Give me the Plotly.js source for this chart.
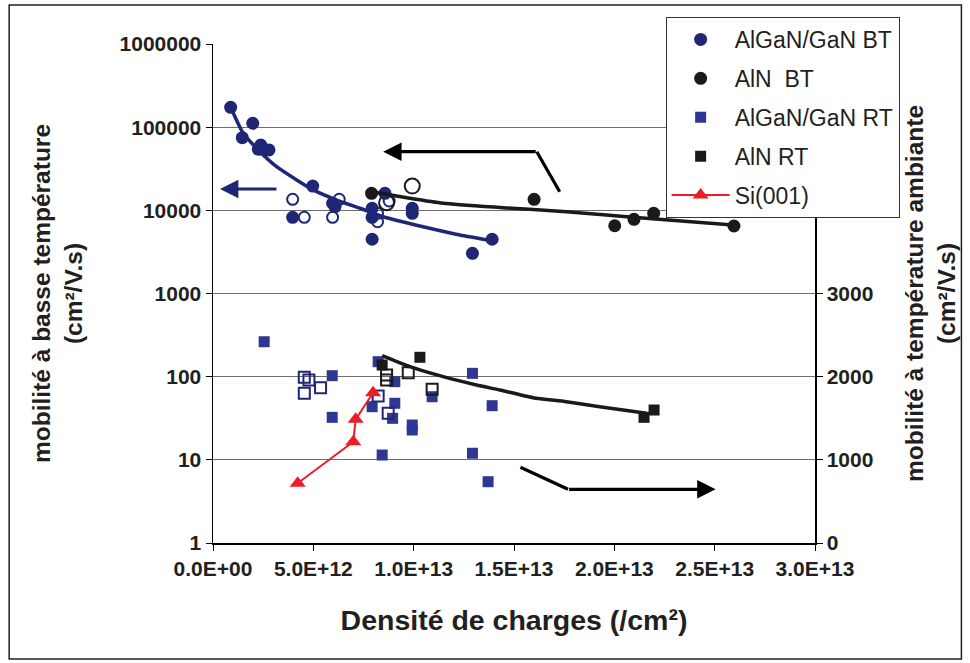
<!DOCTYPE html>
<html>
<head>
<meta charset="utf-8">
<script src="https://cdn.plot.ly/plotly-3.0.1.min.js"></script>
<style>html,body{margin:0;padding:0;background:#fff;}#chart{width:970px;height:663px;}</style>
</head>
<body>
<div id="chart"></div>
<script>
// ---- Data (charge density in /cm², mobility in cm²/V.s) ----
// Low temperature (left log axis)
const algaBT_x = [0.88e12, 1.98e12, 1.46e12, 2.38e12, 2.26e12, 2.79e12, 4.97e12, 3.97e12, 5.96e12, 6.08e12, 7.93e12, 7.93e12, 7.93e12, 8.57e12, 9.93e12, 9.93e12, 12.93e12, 13.91e12];
const algaBT_y = [173400, 111400, 74700, 61000, 54200, 53200, 19600, 8250, 12170, 11070, 10590, 8250, 4490, 16020, 10590, 9210, 3040, 4490];
const algaBTopen_x = [3.97e12, 4.55e12, 5.96e12, 6.29e12, 8.20e12, 8.20e12, 8.78e12];
const algaBTopen_y = [13580, 8250, 8250, 13580, 9210, 7300, 12950];
const alnBT_x = [7.90e12, 16.0e12, 20.02e12, 20.98e12, 21.96e12, 25.96e12];
const alnBT_y = [16020, 13580, 6530, 7800, 9210, 6480];
const alnBTopen_x = [8.65e12, 9.93e12];
const alnBTopen_y = [12360, 19600];
// Room temperature (right linear axis)
const algaRT_x = [2.55e12, 5.94e12, 5.94e12, 8.23e12, 9.06e12, 9.06e12, 7.93e12, 8.95e12, 9.93e12, 9.93e12, 8.43e12, 10.92e12, 12.93e12, 13.91e12, 12.93e12, 13.71e12];
const algaRT_y = [2420, 2012, 1511, 2180, 1940, 1680, 1639, 1499, 1419, 1359, 1058, 1759, 2040, 1651, 1079, 737];
const algaRTopen_x = [4.55e12, 4.78e12, 5.36e12, 4.55e12, 8.23e12, 8.73e12];
const algaRTopen_y = [1992, 1960, 1867, 1800, 1768, 1560];
const alnRT_x = [8.43e12, 10.31e12, 21.48e12, 21.98e12];
const alnRT_y = [2140, 2233, 1511, 1599];
const alnRTopen_x = [8.65e12, 8.65e12, 9.73e12, 10.92e12];
const alnRTopen_y = [2020, 1960, 2048, 1848];
const si_x = [4.22e12, 6.99e12, 7.11e12, 7.98e12];
const si_y = [718, 1218, 1487, 1807];
// Trend lines
const trendAlgaBT_x = [0.88e12, 1.51e12, 2.34e12, 3.17e12, 4.17e12, 4.99e12, 6.16e12, 7.32e12, 8.48e12, 10.47e12, 12.30e12, 13.91e12];
const trendAlgaBT_y = [173400, 84300, 50700, 33500, 23200, 17600, 13300, 10590, 8380, 6350, 5060, 4320];
const trendAlnBT_x = [7.90e12, 9.81e12, 11.47e12, 14.29e12, 17.61e12, 20.93e12, 25.91e12];
const trendAlnBT_y = [16750, 13960, 12160, 10820, 9630, 8250, 6670];
const trendAlnRT_x = [8.43e12, 9.81e12, 11.47e12, 13.13e12, 14.29e12, 15.95e12, 17.61e12, 19.27e12, 21.60e12];
const trendAlnRT_y = [2252, 2120, 2000, 1900, 1840, 1747, 1699, 1639, 1560];
// Tick labels
const xTickVals = [0, 5e12, 1e13, 1.5e13, 2e13, 2.5e13, 3e13];
const xTickText = ['0.0E+00', '5.0E+12', '1.0E+13', '1.5E+13', '2.0E+13', '2.5E+13', '3.0E+13'];
const yTickVals = [1, 10, 100, 1000, 10000, 100000, 1000000];
const yTickText = ['1', '10', '100', '1000', '10000', '100000', '1000000'];
const y2TickVals = [0, 1000, 2000, 3000];
const y2TickText = ['0', '1000', '2000', '3000'];
const legendNames = ['AlGaN/GaN BT', 'AlN\u00a0 BT', 'AlGaN/GaN RT', 'AlN RT', 'Si(001)'];

const NAVY = '#1f2676', BLUE = '#2f3794', BLK = '#1a1a1a', RED = '#ee1c25';
const FONT = 'Arial, "Liberation Sans", sans-serif';

const traces = [
  {x: algaBTopen_x, y: algaBTopen_y, mode: 'markers', showlegend: false,
   marker: {symbol: 'circle-open', size: 11, color: NAVY, line: {width: 2}}},
  {x: alnBTopen_x, y: alnBTopen_y, mode: 'markers', showlegend: false,
   marker: {symbol: 'circle-open', size: 15, color: BLK, line: {width: 2}}},
  {x: algaBT_x, y: algaBT_y, mode: 'markers', name: legendNames[0], legendrank: 1, legendgroup: 'g1',
   marker: {symbol: 'circle', size: 13, color: NAVY}},
  {x: alnBT_x, y: alnBT_y, mode: 'markers', name: legendNames[1], legendrank: 2, legendgroup: 'g2',
   marker: {symbol: 'circle', size: 13, color: BLK}},
  {x: algaRT_x, y: algaRT_y, yaxis: 'y2', mode: 'markers', name: legendNames[2], legendrank: 3, legendgroup: 'g3',
   marker: {symbol: 'square', size: 11, color: BLUE}},
  {x: algaRTopen_x, y: algaRTopen_y, yaxis: 'y2', mode: 'markers', showlegend: false,
   marker: {symbol: 'square-open', size: 11, color: NAVY, line: {width: 2}}},
  {x: alnRT_x, y: alnRT_y, yaxis: 'y2', mode: 'markers', name: legendNames[3], legendrank: 4, legendgroup: 'g4',
   marker: {symbol: 'square', size: 11, color: BLK}},
  {x: alnRTopen_x, y: alnRTopen_y, yaxis: 'y2', mode: 'markers', showlegend: false,
   marker: {symbol: 'square-open', size: 11, color: BLK, line: {width: 2}}},
  {x: trendAlgaBT_x, y: trendAlgaBT_y, mode: 'lines', showlegend: false,
   line: {color: NAVY, width: 3.5, shape: 'spline', smoothing: 0.6}},
  {x: trendAlnBT_x, y: trendAlnBT_y, mode: 'lines', showlegend: false,
   line: {color: BLK, width: 3.5, shape: 'spline', smoothing: 0.6}},
  {x: trendAlnRT_x, y: trendAlnRT_y, yaxis: 'y2', mode: 'lines', showlegend: false,
   line: {color: BLK, width: 3.5, shape: 'spline', smoothing: 0.6}},
  {x: si_x, y: si_y, yaxis: 'y2', mode: 'lines+markers', name: legendNames[4], legendrank: 5, legendgroup: 'g5',
   line: {color: RED, width: 2}, marker: {symbol: 'triangle-up', size: 14, color: RED}}
];

const arrowCommon = {xref: 'paper', yref: 'paper', text: '', showarrow: true, arrowhead: 2,
  arrowsize: 1.15, arrowwidth: 3.2, standoff: 0, ay: 0};

const layout = {
  width: 970, height: 663,
  margin: {l: 213, r: 154.5, t: 44, b: 120, pad: 0},
  paper_bgcolor: '#fff', plot_bgcolor: '#fff',
  font: {family: FONT, color: '#231f20'},
  showlegend: true,
  legend: {x: 0.7519, y: 1.0541, xanchor: 'left', yanchor: 'top', bgcolor: '#fff',
    bordercolor: '#333', borderwidth: 1, font: {family: FONT, size: 23, color: '#231f20'},
    itemwidth: 58, traceorder: 'grouped', tracegroupgap: 6},
  xaxis: {range: [0, 3e13], tickvals: xTickVals, ticktext: xTickText, showgrid: false, zeroline: false,
    showline: true, linecolor: '#000', linewidth: 1.5, ticks: 'outside', ticklen: 6, tickcolor: '#000',
    tickfont: {family: FONT, size: 21, weight: 'bold'},
    title: {text: 'Densité de charges (/cm²)', font: {family: FONT, size: 28.5, weight: 'bold'}, standoff: 31}},
  yaxis: {type: 'log', range: [0, 6], tickvals: yTickVals, ticktext: yTickText, showgrid: true,
    gridcolor: '#6e6e6e', gridwidth: 1.3, zeroline: false, showline: true, linecolor: '#000', linewidth: 1.5,
    ticks: 'outside', ticklen: 6, tickcolor: '#000', tickfont: {family: FONT, size: 21, weight: 'bold'},
    title: {text: 'mobilité à basse température<br>(cm²/V.s)', font: {family: FONT, size: 24.5, weight: 'bold'}, standoff: 30}},
  yaxis2: {overlaying: 'y', side: 'right', range: [0, 6000], tickvals: y2TickVals, ticktext: y2TickText,
    showgrid: false, zeroline: false,
    showline: true, linecolor: '#000', linewidth: 1.5, ticks: 'outside', ticklen: 6, tickcolor: '#000',
    tickfont: {family: FONT, size: 21, weight: 'bold'},
    title: {text: 'mobilité à température ambiante<br>(cm²/V.s)', font: {family: FONT, size: 24.5, weight: 'bold'}, standoff: 33}},
  shapes: [
    {type: 'rect', xref: 'paper', yref: 'paper', x0: -0.3386, x1: 1.2432, y0: -0.2325, y1: 1.0782,
     line: {color: '#231f20', width: 1.5}, layer: 'below'},
    {type: 'line', xref: 'paper', yref: 'paper', x0: 0.5378, y0: 0.7842, x1: 0.5759, y1: 0.7040,
     line: {color: '#000', width: 3.2}},
    {type: 'line', xref: 'paper', yref: 'paper', x0: 0.5107, y0: 0.1517, x1: 0.5897, y1: 0.1076,
     line: {color: '#000', width: 3.2}}
  ],
  annotations: [
    Object.assign({}, arrowCommon, {x: 0.0116, y: 0.7094, ax: 58, arrowcolor: NAVY}),
    Object.assign({}, arrowCommon, {x: 0.2827, y: 0.7842, ax: 154, arrowcolor: '#000'}),
    Object.assign({}, arrowCommon, {x: 0.8349, y: 0.1076, ax: -148, arrowcolor: '#000'})
  ]
};

Plotly.newPlot('chart', traces, layout, {displayModeBar: false, staticPlot: true});
</script>
</body>
</html>
